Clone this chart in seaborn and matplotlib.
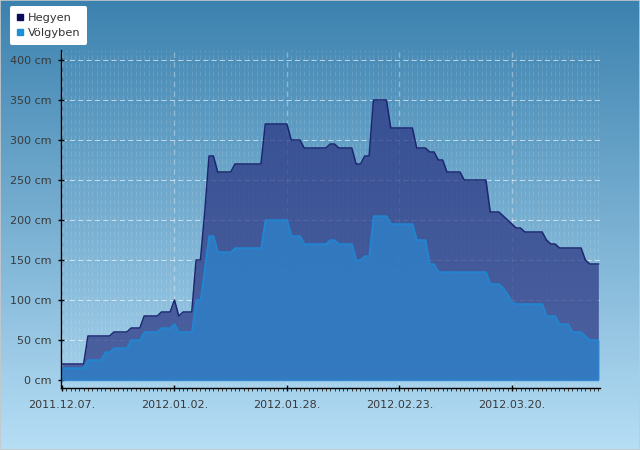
import numpy as np
import pandas as pd
import matplotlib
matplotlib.use("Agg")
import matplotlib.pyplot as plt
import matplotlib.dates as mdates
from matplotlib.colors import LinearSegmentedColormap
from matplotlib.lines import Line2D
from matplotlib.patches import Rectangle
from matplotlib.ticker import FixedLocator, FuncFormatter
import seaborn as sns

# ---------------- data ----------------
start_date = "2011-12-07"
series_names = ["Hegyen", "Völgyben"]

hegyen = [
    20, 20, 20, 20, 20, 20, 55, 55, 55, 55,
    55, 55, 60, 60, 60, 60, 65, 65, 65, 80,
    80, 80, 80, 85, 85, 85, 100, 80, 85, 85,
    85, 150, 150, 210, 280, 280, 260, 260, 260, 260,
    270, 270, 270, 270, 270, 270, 270, 320, 320, 320,
    320, 320, 320, 300, 300, 300, 290, 290, 290, 290,
    290, 290, 295, 295, 290, 290, 290, 290, 270, 270,
    280, 280, 350, 350, 350, 350, 315, 315, 315, 315,
    315, 315, 290, 290, 290, 285, 285, 275, 275, 260,
    260, 260, 260, 250, 250, 250, 250, 250, 250, 210,
    210, 210, 205, 200, 195, 190, 190, 185, 185, 185,
    185, 185, 175, 170, 170, 165, 165, 165, 165, 165,
    165, 150, 145, 145, 145,
]

volgyben = [
    15, 15, 15, 15, 15, 15, 25, 25, 25, 25,
    35, 35, 40, 40, 40, 40, 50, 50, 50, 60,
    60, 60, 60, 65, 65, 65, 70, 60, 60, 60,
    60, 100, 100, 140, 180, 180, 160, 160, 160, 160,
    165, 165, 165, 165, 165, 165, 165, 200, 200, 200,
    200, 200, 200, 180, 180, 180, 170, 170, 170, 170,
    170, 170, 175, 175, 170, 170, 170, 170, 150, 150,
    155, 155, 205, 205, 205, 205, 195, 195, 195, 195,
    195, 195, 175, 175, 175, 145, 145, 135, 135, 135,
    135, 135, 135, 135, 135, 135, 135, 135, 135, 120,
    120, 120, 115, 107, 98, 95, 95, 95, 95, 95,
    95, 95, 80, 80, 80, 70, 70, 70, 60, 60,
    60, 55, 50, 50, 50,
]

y_ticks = [0, 50, 100, 150, 200, 250, 300, 350, 400]
x_tick_step_days = 26

# ---------------- figure ----------------
W, H = 640, 450
fig = plt.figure(figsize=(W / 100, H / 100), dpi=100)

# gradient background
bg = fig.add_axes([0, 0, 1, 1], zorder=0)
grad = np.linspace(0, 1, 256).reshape(-1, 1)
cmap = LinearSegmentedColormap.from_list("bg", ["#3c82af", "#b6def5"])
bg.imshow(grad, aspect="auto", cmap=cmap, extent=[0, 1, 0, 1], origin="upper")
bg.axis("off")

ax = fig.add_axes([61 / W, 1 - 388 / H, (600 - 61) / W, (388 - 50) / H], zorder=1)
ax.patch.set_alpha(0)

dates = pd.date_range(start_date, periods=len(hegyen), freq="D")
df = pd.DataFrame({"date": dates, series_names[0]: hegyen, series_names[1]: volgyben})

# Hegyen area
ax.fill_between(df["date"], 0, df["Hegyen"], color="#2a3582", alpha=0.72, lw=0, zorder=2)
sns.lineplot(data=df, x="date", y="Hegyen", ax=ax, color="#1c2670", lw=1.1, zorder=3)
# Völgyben area
ax.fill_between(df["date"], 0, df["Völgyben"], facecolor="#2f80c8", alpha=0.82,
                edgecolor="#2a88d4", lw=1.0, zorder=4)
sns.lineplot(data=df, x="date", y="Völgyben", ax=ax, color="#1f86d2", lw=1.0, zorder=5)

# limits
ax.set_xlim(dates[0] - pd.Timedelta(hours=5.5), dates[-1] + pd.Timedelta(hours=9))
ax.set_ylim(-10, 412.5)

# ticks
ax.xaxis.set_major_locator(FixedLocator(mdates.date2num(dates[::x_tick_step_days])))
ax.xaxis.set_major_formatter(mdates.DateFormatter("%Y.%m.%d."))
ax.xaxis.set_minor_locator(mdates.DayLocator())
ax.yaxis.set_major_locator(FixedLocator(y_ticks))
ax.yaxis.set_major_formatter(FuncFormatter(lambda v, p: f"{int(v)} cm"))

ax.tick_params(axis="both", which="major", direction="inout", length=5, width=1,
               color="black", labelcolor="#3a3a3a", labelsize=8)
ax.tick_params(axis="x", which="major", pad=6)
ax.tick_params(axis="y", which="major", pad=4)
ax.tick_params(axis="x", which="minor", direction="out", length=2, width=0.7, color="#333333")
ax.set_xlabel("")
ax.set_ylabel("")

# grids
ax.grid(which="major", axis="y", color="white", alpha=0.6, lw=0.75, ls=(0, (5, 3)), zorder=1)
ax.grid(which="major", axis="x", color="white", alpha=0.35, lw=1.0, ls=(0, (4, 3)), zorder=1)
ax.grid(which="minor", axis="x", color="white", alpha=0.12, lw=0.72, ls=(0, (5, 3)), zorder=1)

for s in ["top", "right"]:
    ax.spines[s].set_visible(False)
for s in ["left", "bottom"]:
    ax.spines[s].set_color("black")
    ax.spines[s].set_linewidth(1)
    ax.spines[s].set_zorder(6)

# legend
handles = [
    Line2D([], [], marker="s", ls="", color="#0c0c5e", markersize=5),
    Line2D([], [], marker="s", ls="", color="#1a90d8", markersize=5),
]
leg = fig.legend(handles, series_names, loc="upper left", bbox_to_anchor=(10 / W, 1 - 6 / H),
                 frameon=True, fancybox=True, facecolor="white", edgecolor="none",
                 framealpha=1, fontsize=8.2, handlelength=0.6, handletextpad=0.35,
                 borderpad=0.6, labelspacing=0.45, borderaxespad=0)
for t in leg.get_texts():
    t.set_color("#333333")

# figure border
fig.patches.append(Rectangle((0, 0), 1, 1, transform=fig.transFigure, fill=False,
                             edgecolor="#c8c8c8", lw=1.2, zorder=10))

fig.savefig("out.png", dpi=100)
